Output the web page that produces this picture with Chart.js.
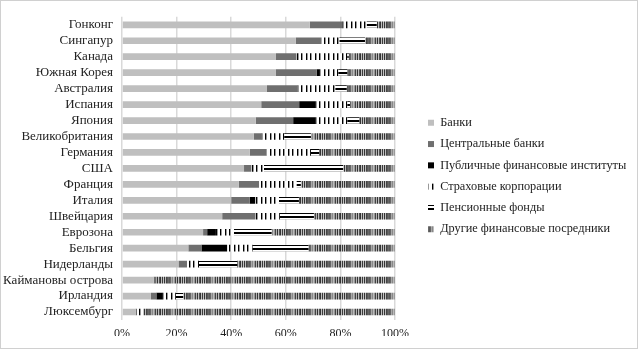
<!DOCTYPE html>
<html>
<head>
<meta charset="utf-8">
<script src="https://cdn.jsdelivr.net/npm/chart.js@4"></script>
<style>
  body { margin: 0; background: #fff; }
</style>
</head>
<body>
<canvas id="myChart" width="638" height="349"></canvas>
<script>
const countries = ['Гонконг', 'Сингапур', 'Канада', 'Южная Корея', 'Австралия', 'Испания', 'Япония',
    'Великобритания', 'Германия', 'США', 'Франция', 'Италия', 'Швейцария', 'Еврозона', 'Бельгия',
    'Нидерланды', 'Каймановы острова', 'Ирландия', 'Люксембург']

const banks      = [68.8, 63.7, 56.4, 56.4, 53.1, 51.0, 49.0, 48.3, 46.8, 44.7, 42.8, 40.0, 36.7, 29.7, 24.3, 20.7, 11.6, 10.6, 5.0]
const central    = [11.9, 9.4, 7.5, 14.9, 11.2, 13.9, 13.7, 2.8, 6.1, 2.7, 7.4, 6.8, 12.2, 1.5, 4.8, 3.1, 1.0, 2.0, 0.5]
const publicInst = [0, 0, 0, 1.2, 0, 6.1, 8.3, 0, 0, 0, 0, 2.0, 0, 3.2, 9.4, 0, 0, 2.1, 0]
const insurance  = [8.9, 6.5, 18.6, 6.7, 13.8, 11.5, 11.5, 8.3, 16.3, 4.6, 13.7, 8.7, 8.9, 6.6, 9.3, 4.4, 0, 5.0, 2.2]
const pension    = [3.7, 9.4, 0.5, 3.3, 4.2, 1.0, 4.4, 9.8, 3.0, 29.0, 1.6, 7.3, 12.5, 13.8, 20.5, 14.0, 0, 2.7, 0]
const others     = [6.7, 11.0, 17.0, 17.5, 17.7, 16.5, 13.1, 30.8, 27.8, 19.0, 34.5, 35.2, 29.7, 45.2, 31.7, 57.8, 87.4, 77.6, 92.3]

const xTicks = [0, 20, 40, 60, 80, 100]

// patterns for the hatched series
function makePattern(w, h, draw) {
    var c = document.createElement('canvas')
    c.width = w
    c.height = h
    var ctx = c.getContext('2d')
    draw(ctx)
    return ctx.createPattern(c, 'repeat')
}

function columns(cols) {
    return makePattern(cols.length, 8, ctx => {
        cols.forEach((col, i) => {
            ctx.fillStyle = col
            ctx.fillRect(i, 0, 1, 8)
        })
    })
}

const insurancePattern = columns(['#000', '#999', '#fff', '#fff', '#000', '#999', '#fff', '#fff', '#fff'])

// two horizontal rules, lined up with the bar rows
const pensionPattern = makePattern(8, 8, ctx => {
    var rows = ['#000', '#000', '#fff', '#bbb', '#fff', '#000', '#fff', '#fff']
    rows.forEach((col, i) => {
        ctx.fillStyle = col
        ctx.fillRect(0, i, 8, 1)
    })
})

const othersPattern = columns(['#333', '#c0c0c0', '#3a3a3a', '#c4c4c4', '#333', '#bbb', '#444',
    '#5a5a5a', '#686868', '#5a5a5a', '#666',
    '#aaa', '#888', '#bbb', '#999',
    '#444', '#b4b4b4', '#333', '#c0c0c0', '#555'])

const frame = {
    id: 'frame',
    beforeDraw(chart) {
        var ctx = chart.ctx
        ctx.save()
        ctx.fillStyle = '#fff'
        ctx.fillRect(0, 0, chart.width, chart.height)
        ctx.strokeStyle = '#d0d0d0'
        ctx.lineWidth = 1
        ctx.strokeRect(0.5, 0.5, chart.width - 1, chart.height - 1)
        ctx.restore()
    }
}

// keep the legend box wide, then move its items away from the plot
const legendPlace = {
    id: 'legendPlace',
    beforeInit(chart) {
        var legend = chart.legend
        var fit = legend.fit
        legend.fit = function () {
            fit.call(this)
            this.width = 243
        }
    },
    afterLayout(chart) {
        chart.legend.left += 24
        chart.legend.right += 24
    }
}

const data = {
    labels: countries,
    datasets: [
        { label: 'Банки', data: banks, backgroundColor: '#bfbfbf' },
        { label: 'Центральные банки', data: central, backgroundColor: '#6f6f6f' },
        { label: 'Публичные финансовые институты', data: publicInst, backgroundColor: '#000' },
        { label: 'Страховые корпорации', data: insurance, backgroundColor: insurancePattern },
        { label: 'Пенсионные фонды', data: pension, backgroundColor: pensionPattern },
        { label: 'Другие финансовые посредники', data: others, backgroundColor: othersPattern }
    ]
}

const config = {
    type: 'bar',
    data,
    options: {
        indexAxis: 'y',
        responsive: false,
        animation: false,
        devicePixelRatio: 1,
        layout: { padding: { top: 16, bottom: 13, left: 0, right: 0 } },
        datasets: {
            bar: { categoryPercentage: 1, barPercentage: 0.42, borderWidth: 0 }
        },
        scales: {
            x: {
                stacked: true,
                min: 0,
                max: 100,
                afterBuildTicks: scale => { scale.ticks = xTicks.map(v => ({ value: v })) },
                afterFit: scale => { scale.height = 16 },
                grid: { color: '#d9d9d9', lineWidth: 1.5, drawTicks: false },
                border: { display: false },
                ticks: {
                    padding: 7,
                    color: '#222',
                    font: { family: 'Liberation Serif', size: 12 },
                    callback: v => v + '%'
                }
            },
            y: {
                stacked: true,
                afterFit: scale => { scale.width = 122 },
                grid: { display: false, drawTicks: false },
                border: { display: false },
                ticks: {
                    autoSkip: false,
                    padding: 9,
                    color: '#222',
                    font: { family: 'Liberation Serif', size: 13 }
                }
            }
        },
        plugins: {
            legend: {
                position: 'right',
                labels: {
                    boxWidth: 6,
                    boxHeight: 6,
                    padding: 9,
                    color: '#222',
                    font: { family: 'Liberation Serif', size: 12.3 }
                }
            },
            tooltip: { enabled: false }
        }
    },
    plugins: [frame, legendPlace]
}

var chart = new Chart(document.getElementById('myChart'), config)
</script>
</body>
</html>
